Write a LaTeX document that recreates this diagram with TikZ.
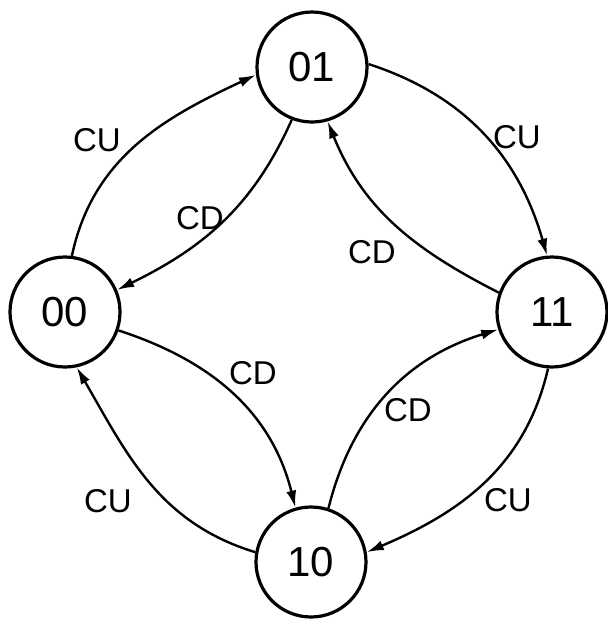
\documentclass[tikz,border=0pt]{standalone}
\usepackage{fontspec}
\setmainfont{Liberation Sans}
\usetikzlibrary{arrows.meta}
\begin{document}
\begin{tikzpicture}[x=1pt,y=1pt,
  state/.style={circle,draw,line width=3.2pt,minimum size=110pt,inner sep=0pt,font=\fontsize{42}{42}\selectfont},
  trans/.style={line width=2.4pt,-{Latex[length=17pt,width=10pt]}},
  lbl/.style={font=\fontsize{33}{33}\selectfont,inner sep=0pt}]
\useasboundingbox (0,0) rectangle (608,-625);
\node[state] (s01) at (312,-67) {01};
\node[state] (s00) at (65,-312) {00};
\node[state] (s11) at (552,-312) {11};
\node[state] (s10) at (311,-562) {10};
\draw[trans] (s00.83) to[out=78,in=205] (s01.188);
\draw[trans] (s01.249) to[out=246,in=26] (s00.23);
\draw[trans] (s01.3) to[out=-18,in=106] (s11.95);
\draw[trans] (s11.160) to[out=153,in=-68] (s01.286);
\draw[trans] (s00.-19) to[out=-18,in=104] (s10.106);
\draw[trans] (s10.170) to[out=163,in=-60] (s00.282);
\draw[trans] (s10.72) to[out=76,in=197] (s11.198);
\draw[trans] (s11.266) to[out=257,in=23] (s10.10);
\node[lbl] (l1) at (97,-140) {CU};
\node[lbl] (l2) at (200,-218) {CD};
\node[lbl] (l3) at (517,-137) {CU};
\node[lbl] (l4) at (372,-252) {CD};
\node[lbl] (l5) at (253,-373) {CD};
\node[lbl] (l6) at (108,-501) {CU};
\node[lbl] (l7) at (408,-410) {CD};
\node[lbl] (l8) at (508,-500) {CU};
\end{tikzpicture}
\end{document}
